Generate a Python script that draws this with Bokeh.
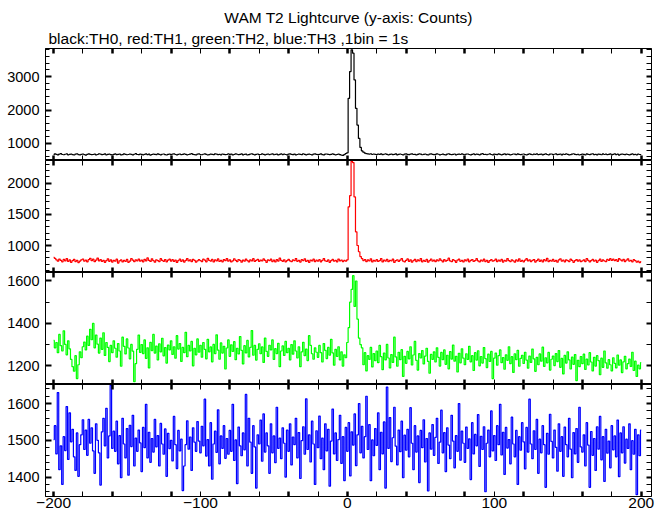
from bokeh.plotting import figure
from bokeh.models import LinearAxis, FixedTicker, Title, Range1d
from bokeh.layouts import column
from bokeh.embed import file_html
from bokeh.resources import INLINE

FONT = "Liberation Sans"

time_s = list(range(-200, 201))

th0 = [
    665, 690, 672, 658, 681, 694, 670, 662, 677, 688, 659, 671, 683, 666, 654, 679, 692, 668, 661, 675,
    684, 667, 652, 673, 689, 676, 663, 670, 681, 657, 669, 692, 678, 664, 671, 686, 660, 673, 679, 668,
    656, 672, 688, 665, 674, 681, 659, 667, 690, 676, 662, 670, 684, 671, 658, 677, 693, 669, 663, 680,
    672, 661, 675, 687, 664, 678, 653, 670, 682, 674, 666, 689, 671, 660, 677, 685, 668, 655, 674, 683,
    667, 679, 692, 670, 658, 676, 684, 663, 671, 688, 675, 660, 669, 681, 694, 672, 664, 657, 678, 686,
    670, 662, 677, 689, 673, 655, 668, 682, 676, 664, 691, 679, 667, 672, 659, 684, 675, 663, 670, 688,
    674, 681, 658, 669, 690, 677, 664, 672, 686, 661, 673, 679, 654, 668, 683, 692, 671, 660, 676, 685,
    663, 670, 687, 675, 659, 672, 684, 668, 677, 690, 662, 671, 680, 657, 674, 688, 666, 679, 670, 661,
    678, 689, 672, 664, 681, 656, 670, 685, 673, 667, 692, 676, 661, 674, 683, 669, 658, 680, 688, 671,
    666, 675, 690, 668, 657, 679, 684, 671, 663, 676, 688, 672, 659, 670, 681, 665, 652, 645, 668, 700,
    720, 2350, 3150, 3800, 3700, 2900, 2050, 1550, 1150, 880, 780, 740, 712, 695, 688, 679, 692, 670, 684, 675,
    668, 681, 673, 690, 664, 677, 686, 671, 659, 675, 683, 668, 672, 689, 661, 676, 684, 670, 657, 679,
    686, 672, 664, 680, 691, 669, 675, 658, 673, 687, 678, 662, 671, 684, 667, 655, 679, 690, 674, 666,
    673, 689, 677, 661, 670, 683, 668, 656, 679, 692, 671, 664, 676, 685, 660, 672, 681, 669, 687, 674,
    662, 678, 685, 670, 657, 674, 688, 666, 680, 671, 659, 683, 693, 669, 675, 662, 677, 686, 670, 658,
    679, 671, 664, 687, 676, 660, 673, 690, 668, 681, 674, 656, 670, 684, 679, 663, 688, 672, 665, 677,
    685, 669, 658, 676, 691, 674, 662, 680, 671, 687, 666, 673, 682, 659, 675, 689, 670, 661, 678, 684,
    668, 677, 690, 663, 672, 684, 656, 679, 670, 686, 675, 661, 668, 681, 692, 673, 664, 677, 655, 670,
    682, 673, 660, 688, 671, 665, 679, 692, 668, 674, 659, 683, 676, 662, 687, 670, 678, 664, 671, 686,
    660, 674, 689, 667, 678, 653, 671, 684, 672, 663, 680, 669, 657, 675, 688, 666, 672, 659, 678, 670,
    668,
]

th1 = [
    812, 795, 770, 748, 783, 761, 739, 776, 752, 790, 744, 768, 731, 757, 779, 742, 763, 726, 751, 770,
    784, 749, 765, 738, 772, 795, 756, 780, 741, 767, 798, 753, 775, 744, 762, 731, 758, 786, 747, 770,
    735, 762, 748, 781, 719, 754, 768, 737, 760, 745, 776, 731, 750, 792, 764, 740, 771, 755, 783, 749,
    766, 739, 778, 752, 801, 763, 744, 787, 756, 733, 770, 758, 742, 789, 761, 747, 775, 738, 764, 781,
    750, 773, 744, 766, 729, 758, 784, 747, 769, 735, 762, 791, 753, 770, 741, 779, 760, 732, 755, 772,
    758, 743, 781, 765, 739, 794, 762, 751, 777, 736, 768, 752, 785, 744, 760, 738, 774, 757, 792, 749,
    771, 736, 755, 788, 763, 741, 775, 760, 733, 766, 749, 782, 758, 737, 770, 753, 789, 745, 762, 778,
    744, 767, 752, 785, 760, 731, 769, 756, 780, 743, 764, 737, 775, 751, 798, 762, 746, 771, 739, 757,
    779, 752, 740, 768, 756, 792, 747, 763, 735, 772, 758, 786, 744, 761, 730, 767, 753, 781, 740, 764,
    750, 773, 738, 762, 790, 755, 744, 769, 731, 757, 776, 748, 763, 739, 782, 754, 767, 742, 760, 748,
    770, 1620, 1800, 2350, 2330, 1780, 1220, 1000, 900, 822, 790, 758, 775, 741, 768, 752, 786, 737, 763, 749,
    772, 744, 759, 791, 736, 765, 750, 778, 741, 763, 754, 782, 729, 758, 771, 745, 767, 792, 751, 738,
    762, 785, 747, 770, 733, 756, 779, 742, 768, 753, 790, 739, 761, 747, 776, 732, 759, 784, 750, 766,
    741, 769, 755, 788, 760, 736, 772, 749, 763, 797, 752, 740, 774, 758, 731, 765, 781, 746, 760, 737,
    770, 752, 784, 739, 761, 775, 744, 758, 789, 753, 736, 767, 750, 780, 742, 763, 729, 756, 772, 748,
    759, 783, 740, 766, 751, 777, 735, 762, 748, 790, 757, 742, 771, 755, 733, 768, 750, 786, 744, 761,
    738, 764, 789, 752, 770, 741, 760, 775, 734, 758, 781, 747, 766, 737, 772, 754, 795, 743, 762, 749,
    776, 745, 760, 733, 768, 787, 751, 764, 739, 771, 756, 742, 780, 760, 731, 757, 775, 748, 768, 740,
    754, 771, 743, 792, 762, 737, 758, 776, 749, 765, 730, 757, 783, 745, 768, 752, 741, 777, 760, 789,
    762, 780, 756, 773, 747, 791, 768, 752, 779, 743, 765, 786, 750, 761, 738, 772, 757, 735, 748, 725,
    740,
]

th2 = [
    1320, 1285, 1310, 1262, 1348, 1295, 1270, 1365, 1301, 1252, 1318, 1280, 1230, 1196, 1175, 1248, 1140, 1205, 1266, 1238,
    1290, 1312, 1275, 1340, 1296, 1372, 1323, 1400, 1285, 1345, 1302, 1260, 1331, 1278, 1356, 1249, 1310, 1287, 1220, 1296,
    1262, 1318, 1283, 1241, 1305, 1270, 1198, 1335, 1292, 1256, 1327, 1284, 1233, 1301, 1269, 1125, 1210, 1278, 1345, 1263,
    1300, 1258, 1322, 1235, 1285, 1190, 1311, 1272, 1348, 1260, 1293, 1228, 1304, 1266, 1330, 1247, 1286, 1213, 1298, 1275,
    1318, 1254, 1290, 1236, 1342, 1279, 1305, 1221, 1287, 1262, 1358, 1243, 1296, 1270, 1315, 1200, 1283, 1252, 1327, 1264,
    1297, 1241, 1310, 1278, 1233, 1325, 1266, 1289, 1219, 1301, 1258, 1346, 1274, 1231, 1308, 1260, 1292, 1185, 1284, 1322,
    1245, 1299, 1268, 1314, 1229, 1283, 1256, 1338, 1273, 1209, 1295, 1261, 1320, 1242, 1287, 1366, 1250, 1296, 1227, 1278,
    1304, 1257, 1289, 1216, 1331, 1268, 1245, 1297, 1275, 1322, 1230, 1281, 1258, 1306, 1196, 1270, 1294, 1249, 1315, 1262,
    1283, 1228, 1300, 1255, 1318, 1270, 1237, 1290, 1196, 1266, 1311, 1248, 1279, 1225, 1342, 1296, 1257, 1231, 1285, 1264,
    1240, 1296, 1262, 1218, 1305, 1273, 1234, 1287, 1250, 1325, 1261, 1203, 1278, 1244, 1290, 1228, 1266, 1199, 1252, 1238,
    1310, 1380, 1500, 1560, 1625, 1480, 1600, 1420, 1331, 1300, 1285, 1205, 1262, 1176, 1248, 1230, 1287, 1195, 1258, 1224,
    1270, 1215, 1296, 1243, 1182, 1260, 1228, 1301, 1237, 1190, 1253, 1216, 1335, 1242, 1198, 1264, 1229, 1276, 1150, 1245,
    1212, 1268, 1233, 1290, 1204, 1251, 1315, 1226, 1180, 1258, 1237, 1272, 1209, 1246, 1283, 1221, 1165, 1254, 1230, 1266,
    1218, 1285, 1240, 1199, 1263, 1229, 1275, 1207, 1250, 1186, 1267, 1232, 1298, 1222, 1245, 1171, 1259, 1214, 1280, 1236,
    1205, 1257, 1230, 1292, 1219, 1248, 1178, 1262, 1227, 1271, 1200, 1244, 1213, 1286, 1234, 1192, 1255, 1221, 1268, 1140,
    1236, 1260, 1203, 1248, 1275, 1215, 1239, 1184, 1252, 1226, 1290, 1210, 1243, 1169, 1257, 1229, 1273, 1198, 1235, 1250,
    1211, 1264, 1227, 1189, 1246, 1216, 1279, 1233, 1174, 1240, 1205, 1256, 1222, 1288, 1197, 1238, 1214, 1263, 1180, 1231,
    1246, 1201, 1258, 1220, 1272, 1193, 1235, 1162, 1249, 1213, 1266, 1228, 1185, 1241, 1207, 1253, 1130, 1226, 1196, 1244,
    1210, 1255, 1183, 1232, 1204, 1262, 1218, 1176, 1240, 1199, 1248, 1225, 1158, 1236, 1193, 1270, 1214, 1189, 1229, 1205,
    1176, 1238, 1212, 1190, 1251, 1203, 1228, 1168, 1219, 1245, 1186, 1210, 1232, 1197, 1264, 1178, 1222, 1150, 1203, 1186,
    1215,
]

th3 = [
    1502, 1540, 1463, 1630, 1420, 1485, 1380, 1510, 1472, 1592, 1448, 1575, 1496, 1530, 1455, 1418, 1520, 1402, 1488, 1515,
    1556, 1475, 1528, 1459, 1557, 1492, 1534, 1471, 1410, 1545, 1500, 1466, 1378, 1523, 1560, 1485, 1587, 1452, 1512, 1650,
    1478, 1525, 1470, 1552, 1436, 1513, 1398, 1560, 1490, 1452, 1532, 1405, 1541, 1483, 1568, 1430, 1506, 1470, 1528, 1493,
    1415, 1535, 1480, 1598, 1452, 1522, 1440, 1505, 1468, 1557, 1482, 1513, 1430, 1546, 1490, 1462, 1531, 1402, 1519, 1477,
    1500, 1444, 1565, 1488, 1423, 1527, 1471, 1503, 1363, 1430, 1488, 1553, 1476, 1509, 1418, 1534, 1495, 1470, 1551, 1498,
    1466, 1538, 1485, 1612, 1457, 1502, 1430, 1548, 1394, 1490, 1525, 1467, 1583, 1436, 1512, 1478, 1540, 1451, 1505, 1462,
    1527, 1470, 1598, 1445, 1501, 1382, 1536, 1485, 1458, 1520, 1474, 1625, 1430, 1560, 1495, 1410, 1540, 1482, 1370, 1515,
    1490, 1555, 1443, 1572, 1468, 1520, 1485, 1410, 1545, 1466, 1512, 1439, 1590, 1478, 1506, 1450, 1534, 1492, 1400, 1528,
    1470, 1545, 1433, 1509, 1488, 1560, 1452, 1521, 1396, 1499, 1537, 1462, 1613, 1475, 1515, 1441, 1552, 1490, 1380, 1526,
    1480, 1566, 1450, 1506, 1420, 1545, 1471, 1530, 1375, 1498, 1585, 1463, 1520, 1445, 1502, 1568, 1437, 1510, 1390, 1535,
    1470, 1548, 1403, 1523, 1487, 1572, 1431, 1515, 1600, 1466, 1538, 1452, 1510, 1620, 1475, 1543, 1390, 1501, 1458, 1532,
    1486, 1575, 1420, 1522, 1463, 1550, 1370, 1645, 1478, 1562, 1442, 1507, 1590, 1484, 1433, 1528, 1469, 1552, 1398, 1514,
    1473, 1530, 1455, 1589, 1492, 1420, 1540, 1468, 1512, 1385, 1527, 1480, 1556, 1441, 1505, 1362, 1520, 1476, 1543, 1459,
    1508, 1560, 1437, 1495, 1582, 1466, 1521, 1415, 1534, 1487, 1450, 1568, 1498, 1425, 1513, 1470, 1600, 1446, 1525, 1492,
    1440, 1536, 1478, 1504, 1393, 1548, 1463, 1516, 1485, 1570, 1429, 1511, 1475, 1537, 1360, 1492, 1528, 1455, 1580, 1471,
    1513, 1445, 1540, 1488, 1598, 1460, 1522, 1407, 1535, 1479, 1502, 1436, 1563, 1490, 1455, 1527, 1380, 1510, 1473, 1548,
    1496, 1422, 1535, 1468, 1612, 1490, 1450, 1526, 1475, 1557, 1410, 1503, 1466, 1540, 1488, 1372, 1519, 1462, 1571, 1497,
    1452, 1528, 1481, 1416, 1545, 1470, 1510, 1402, 1536, 1488, 1455, 1560, 1476, 1398, 1521, 1463, 1532, 1440, 1590, 1482,
    1468, 1515, 1430, 1548, 1487, 1372, 1524, 1459, 1505, 1418, 1537, 1476, 1565, 1447, 1510, 1388, 1530, 1465, 1498, 1425,
    1540, 1474, 1512, 1455, 1555, 1401, 1520, 1466, 1537, 1438, 1503, 1478, 1545, 1420, 1499, 1462, 1530, 1352, 1515, 1458,
    1528,
]

for s in (th0, th1, th2, th3):
    assert len(s) == len(time_s), len(s)

title_text = "WAM T2 Lightcurve (y-axis: Counts)"
subtitle_text = "black:TH0, red:TH1, green:TH2, blue:TH3 ,1bin = 1s"

X_LO, X_HI = -205.5, 207
x_thick = list(range(-200, 201, 40))
x_thin = [t for t in range(-200, 201, 20) if t % 40 != 0]
x_label_ticks = [-200, -100, 0, 100, 200]
x_label_text = {-200: "\u2212200", -100: "\u2212100", 0: "0", 100: "100", 200: "200"}

panels = [
    dict(y=th0, color="#000000", yr=(490, 3840), ymaj=[1000, 2000, 3000],
         ymin=[v for v in range(600, 3801, 200) if v % 1000 != 0]),
    dict(y=th1, color="#ff0000", yr=(567, 2364), ymaj=[1000, 1500, 2000],
         ymin=[v for v in range(600, 2301, 100) if v % 500 != 0]),
    dict(y=th2, color="#00ff00", yr=(1112, 1640), ymaj=[1200, 1400, 1600],
         ymin=[1300, 1500]),
    dict(y=th3, color="#0000ff", yr=(1347, 1652), ymaj=[1400, 1500, 1600],
         ymin=[v for v in range(1360, 1641, 20) if v % 100 != 0]),
]


def tick_axis(ticks, width, loc):
    # an axis pinned at the frame edge that only draws inward tick marks
    ax = LinearAxis(ticker=FixedTicker(ticks=[], minor_ticks=ticks), fixed_location=loc)
    ax.axis_line_color = "black"
    ax.axis_line_width = 1
    ax.major_tick_in = 0
    ax.major_tick_out = 0
    ax.minor_tick_in = 5
    ax.minor_tick_out = 0
    ax.minor_tick_line_width = width
    ax.minor_tick_line_color = "black"
    ax.major_label_standoff = 0
    ax.major_label_text_color = None
    return ax


W = 669
heights = [160, 112, 112, 131]
tops = [48, 0, 0, 0]
bottoms = [0, 0, 0, 19]
figs = []
for i, spec in enumerate(panels):
    ylo, yhi = spec["yr"]
    p = figure(width=W, height=heights[i],
               x_range=Range1d(X_LO, X_HI), y_range=Range1d(ylo, yhi),
               output_backend="svg", toolbar_location=None,
               x_axis_location=None, y_axis_location=None,
               min_border_left=45, min_border_right=18,
               min_border_top=tops[i], min_border_bottom=bottoms[i])
    p.grid.visible = False
    p.outline_line_color = "black"
    p.outline_line_width = 1
    p.background_fill_color = "white"
    p.border_fill_color = "white"

    p.add_layout(tick_axis(x_thick, 2.5, ylo), "below")
    p.add_layout(tick_axis(x_thin, 1, ylo), "below")
    p.add_layout(tick_axis(x_thick, 2.5, yhi), "above")
    p.add_layout(tick_axis(x_thin, 1, yhi), "above")
    p.add_layout(tick_axis(spec["ymaj"], 2, X_HI), "right")
    p.add_layout(tick_axis(spec["ymin"], 1, X_HI), "right")

    yl = LinearAxis(ticker=FixedTicker(ticks=spec["ymaj"], minor_ticks=spec["ymin"]))
    yl.axis_line_color = "black"
    yl.major_tick_in = 6
    yl.major_tick_out = 0
    yl.major_tick_line_width = 2
    yl.major_tick_line_color = "black"
    yl.minor_tick_in = 4
    yl.minor_tick_out = 0
    yl.minor_tick_line_width = 1
    yl.minor_tick_line_color = "black"
    yl.major_label_text_font = FONT
    yl.major_label_text_font_size = "14.5px"
    yl.major_label_text_color = "black"
    yl.major_label_standoff = 6
    yl.axis_label_standoff = 0
    p.add_layout(yl, "left")

    if i == 3:
        xl = LinearAxis(ticker=FixedTicker(ticks=x_label_ticks, minor_ticks=[]),
                        major_label_overrides=x_label_text)
        xl.axis_line_color = None
        xl.major_tick_in = 0
        xl.major_tick_out = 0
        xl.minor_tick_in = 0
        xl.minor_tick_out = 0
        xl.major_label_text_font = FONT
        xl.major_label_text_font_size = "15.5px"
        xl.major_label_text_color = "black"
        xl.major_label_standoff = 1
        xl.axis_label_standoff = 0
        p.add_layout(xl, "below")

    if i == 0:
        p.add_layout(Title(text=subtitle_text, align="left", offset=3, standoff=4,
                           text_font=FONT, text_font_size="15.5px",
                           text_font_style="normal", text_color="black"), "above")
        p.add_layout(Title(text=title_text, align="center", offset=4, standoff=0,
                           text_font=FONT, text_font_size="15.5px",
                           text_font_style="normal", text_color="black"), "above")

    p.step(time_s, spec["y"], mode="center", line_color=spec["color"], line_width=1.2)
    figs.append(p)

layout = column(*figs, spacing=0)
open("out.html", "w").write(file_html(layout, INLINE))
